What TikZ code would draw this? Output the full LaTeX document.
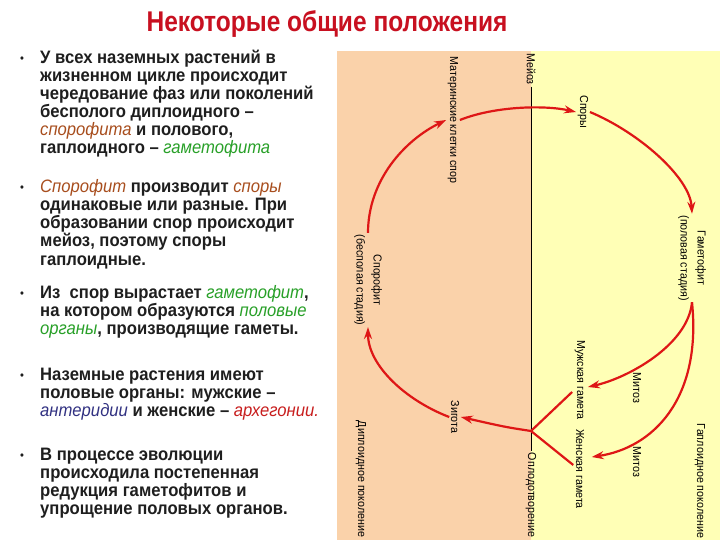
\documentclass[tikz,border=0pt]{standalone}
\usepackage{fontspec}
\setmainfont{Liberation Sans}
\newfontfamily\bodyff[FakeStretch=0.925]{Liberation Sans}
\newfontfamily\titleff[FakeStretch=0.86]{Liberation Sans}
\newfontfamily\labff[FakeStretch=0.92]{Liberation Sans}
\usetikzlibrary{arrows.meta,calc}
\definecolor{panelor}{RGB}{250,210,170}
\definecolor{panelye}{RGB}{255,255,182}
\definecolor{arrred}{RGB}{222,22,22}
\definecolor{titred}{RGB}{200,16,32}
\definecolor{txtbrown}{RGB}{168,78,30}
\definecolor{txtgreen}{RGB}{40,160,40}
\definecolor{txtblue}{RGB}{50,50,130}
\definecolor{txtred}{RGB}{200,30,30}
\definecolor{txtdark}{RGB}{30,30,30}
\newcommand\mySp[1]{{\mdseries\itshape\color{txtbrown}#1}}
\newcommand\myGr[1]{{\mdseries\itshape\color{txtgreen}#1}}
\newcommand\myBl[1]{{\mdseries\itshape\color{txtblue}#1}}
\newcommand\myRd[1]{{\mdseries\itshape\color{txtred}#1}}
\newcommand\myBodyFont{\bodyff\bfseries\fontsize{18}{18}\selectfont}
\newcommand\myLabFont{\labff\fontsize{11.6}{17}\selectfont}
\tikzset{
  bodyline/.style={anchor=base west, inner sep=0pt, font=\myBodyFont, text=txtdark},
  bulletdot/.style={anchor=base, inner sep=0pt, font=\bodyff\fontsize{12}{12}\selectfont, text=txtdark},
  lab/.style={rotate=-90, font=\myLabFont, inner sep=1.5pt, align=center, text=black},
  arr/.style={draw=arrred, line width=2.2pt, -{Stealth[length=12pt,width=8pt]}},
  seg/.style={draw=arrred, line width=2.2pt},
}
\begin{document}
\begin{tikzpicture}[x=1pt,y=-1pt]
\useasboundingbox (0,0) rectangle (720,540);
\fill[white] (0,0) rectangle (720,540);
% panel
\fill[panelor] (337,51) rectangle (531,540);
\fill[panelye] (531,51) rectangle (720,540);
% title
\node[anchor=base, inner sep=0pt, font=\titleff\bfseries\fontsize{28.5}{30}\selectfont, text=titred] (title) at (327,32) {Некоторые общие положения};
% bullets
\foreach \yy [count=\i] in {64,193,298,380,460} {
  \node[bulletdot] (b\i) at (22,\yy-1) {•};
}
% body lines
\foreach \yy/\lt in {
 64/{У всех наземных растений в},
 82/{жизненном цикле происходит},
 100/{чередование фаз или поколений},
 118/{бесполого диплоидного –},
 136/{\mySp{спорофита} и полового,},
 154/{гаплоидного – \myGr{гаметофита}},
 193/{\mySp{Спорофит} производит \mySp{споры}},
 211/{одинаковые или разные. При},
 229/{образовании спор происходит},
 247/{мейоз, поэтому споры},
 265/{гаплоидные.},
 298/{Из \ спор вырастает \myGr{гаметофит},},
 316/{на котором образуются \myGr{половые}},
 334/{\myGr{органы}, производящие гаметы.},
 380/{Наземные растения имеют},
 398/{половые органы: мужские –},
 416/{\myBl{антеридии} и женские – \myRd{архегонии.}},
 460/{В процессе эволюции},
 478/{происходила постепенная},
 496/{редукция гаметофитов и},
 514/{упрощение половых органов.}} {
  \node[bodyline] (t\yy) at (40,\yy) {\lt};
}
% diagram labels
\node[lab] (mei) at (531,69) {Мейоз};
\node[lab] (fert) at (531,495) {Оплодотворение};
\node[lab] (spory) at (583,112) {Споры};
\node[lab] (mks) at (453,120) {Материнские клетки спор};
\node[lab] (gam) at (692,258) {Гаметофит\\(половая стадия)};
\node[lab] (sporo) at (368,280) {Спорофит\\(бесполая стадия)};
\node[lab] (mit1) at (637,388) {Митоз};
\node[lab] (mit2) at (637,462) {Митоз};
\node[lab] (male) at (580,380) {Мужская гамета};
\node[lab] (female) at (580,469) {Женская гамета};
\node[lab] (zyg) at (455,417) {Зигота};
\node[lab] (hap) at (700,481) {Гаплоидное поколение};
\node[lab] (dip) at (361,479) {Диплоидное поколение};
\coordinate (fpt) at (531,431);
% dividing line
\draw[black, line width=1pt] (mei) -- (fert);
% arrows
\draw[arr] (mks.north) .. controls (495,106) and (545,105) .. (spory.south);
\draw[arr] (spory.north) .. controls (640,133) and (690,178) .. (gam.west);
\draw[arr] (gam.east) .. controls (688,345) and (628,378) .. ($(male.north)+(1,7)$);
\draw[arr] (gam.east) .. controls (702,400) and (652,448) .. ($(female.north)+(6,-12)$);
\draw[seg] ($(male.south)+(-1,12)$) -- (fpt);
\draw[seg] ($(female.south)+(-1,-4)$) -- (fpt);
\draw[arr] (fpt) .. controls (505,427) .. (zyg.north);
\draw[arr] (zyg.south) .. controls (405,400) and (368,365) .. (sporo.east);
\draw[arr] (sporo.west) .. controls (368,180) and (405,140) .. (mks.south);
\end{tikzpicture}
\end{document}
